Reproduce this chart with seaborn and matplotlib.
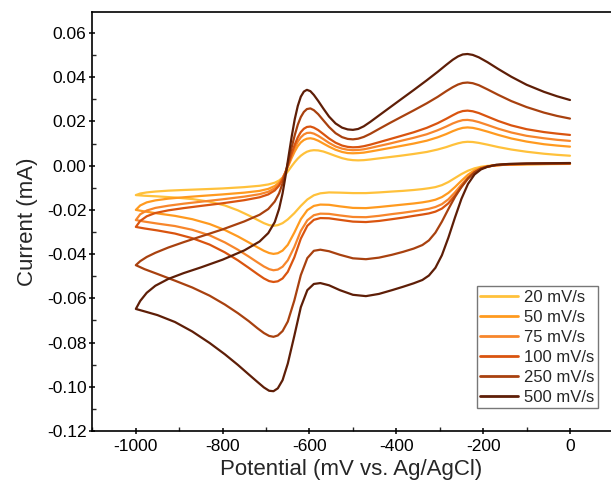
import pandas as pd
import seaborn as sns
import matplotlib
import matplotlib.pyplot as plt
from matplotlib.ticker import MultipleLocator, FormatStrFormatter

matplotlib.use("Agg")

# scan rates and colours
rates = ["20 mV/s", "50 mV/s", "75 mV/s", "100 mV/s", "250 mV/s", "500 mV/s"]
colors = ["#FFC13B", "#FF9A1F", "#F7862C", "#D9540F", "#A8410F", "#5E1E07"]

# cathodic sweep potentials (0 -> -1000 mV)
E_cat = [0, -50, -100, -140, -170,
         -190, -205, -220, -235, -250,
         -265, -280, -295, -310, -325,
         -340, -360, -385, -410, -440,
         -470, -500, -530, -555, -575,
         -590, -605, -620, -635, -650,
         -662, -673, -683, -693, -705,
         -720, -740, -765, -795, -830,
         -870, -910, -950, -980, -1000]
# anodic sweep potentials (-1000 -> 0 mV)
E_ano = [-1000, -990, -975, -955, -925,
         -890, -850, -800, -750, -715,
         -695, -680, -670, -662, -655,
         -648, -641, -634, -627, -620,
         -613, -606, -598, -590, -580,
         -568, -555, -540, -525, -512,
         -500, -488, -475, -460, -440,
         -415, -390, -360, -330, -305,
         -285, -270, -258, -247, -236,
         -224, -210, -190, -165, -135,
         -100, -60, -30, 0]

# currents (mA)
cat_20 = [0.0008, 0.0007, 0.0006, 0.0005, 0.0002,
          -0.0001, -0.0005, -0.0012, -0.0023, -0.0038,
          -0.0056, -0.0074, -0.0088, -0.0097, -0.0102,
          -0.0106, -0.0110, -0.0114, -0.0117, -0.0121,
          -0.0124, -0.0124, -0.0122, -0.0121, -0.0125,
          -0.0134, -0.0153, -0.0182, -0.0215, -0.0243,
          -0.0260, -0.0269, -0.0272, -0.0269, -0.0260,
          -0.0245, -0.0225, -0.0202, -0.0180, -0.0163,
          -0.0151, -0.0144, -0.0139, -0.0136, -0.0133]
ano_20 = [-0.0133, -0.0126, -0.0121, -0.0117, -0.0113,
          -0.0110, -0.0107, -0.0103, -0.0097, -0.0091,
          -0.0085, -0.0077, -0.0067, -0.0054, -0.0039,
          -0.0021, -0.0002, 0.0016, 0.0032, 0.0045,
          0.0055, 0.0063, 0.0068, 0.0070, 0.0069,
          0.0064, 0.0055, 0.0044, 0.0034, 0.0028,
          0.0025, 0.0024, 0.0025, 0.0028, 0.0033,
          0.0039, 0.0045, 0.0053, 0.0062, 0.0073,
          0.0084, 0.0094, 0.0101, 0.0106, 0.0108,
          0.0107, 0.0103, 0.0095, 0.0084, 0.0073,
          0.0063, 0.0054, 0.0049, 0.0045]

cat_50 = [0.0009, 0.0008, 0.0007, 0.0005, 0.0002,
          -0.0003, -0.0009, -0.0021, -0.0041, -0.0068,
          -0.0097, -0.0123, -0.0142, -0.0154, -0.0161,
          -0.0166, -0.0171, -0.0176, -0.0181, -0.0187,
          -0.0192, -0.0191, -0.0184, -0.0177, -0.0176,
          -0.0182, -0.0201, -0.0242, -0.0303, -0.0358,
          -0.0384, -0.0396, -0.0399, -0.0395, -0.0385,
          -0.0369, -0.0347, -0.0320, -0.0291, -0.0264,
          -0.0242, -0.0227, -0.0216, -0.0207, -0.0200]
ano_50 = [-0.0200, -0.0180, -0.0166, -0.0157, -0.0149,
          -0.0143, -0.0137, -0.0130, -0.0122, -0.0114,
          -0.0105, -0.0092, -0.0076, -0.0055, -0.0028,
          0.0003, 0.0035, 0.0064, 0.0088, 0.0105,
          0.0116, 0.0122, 0.0124, 0.0121, 0.0113,
          0.0100, 0.0086, 0.0072, 0.0062, 0.0057,
          0.0056, 0.0057, 0.0059, 0.0064, 0.0071,
          0.0080, 0.0089, 0.0100, 0.0113, 0.0128,
          0.0143, 0.0156, 0.0165, 0.0171, 0.0173,
          0.0171, 0.0165, 0.0154, 0.0139, 0.0123,
          0.0109, 0.0097, 0.0091, 0.0086]

cat_75 = [0.0009, 0.0008, 0.0007, 0.0005, 0.0002,
          -0.0004, -0.0012, -0.0027, -0.0052, -0.0086,
          -0.0121, -0.0152, -0.0174, -0.0187, -0.0195,
          -0.0200, -0.0206, -0.0213, -0.0219, -0.0227,
          -0.0233, -0.0232, -0.0225, -0.0218, -0.0217,
          -0.0224, -0.0247, -0.0295, -0.0368, -0.0428,
          -0.0457, -0.0470, -0.0473, -0.0468, -0.0456,
          -0.0437, -0.0411, -0.0380, -0.0347, -0.0315,
          -0.0290, -0.0273, -0.0262, -0.0253, -0.0246]
ano_75 = [-0.0246, -0.0220, -0.0203, -0.0191, -0.0181,
          -0.0172, -0.0163, -0.0152, -0.0140, -0.0129,
          -0.0118, -0.0102, -0.0083, -0.0058, -0.0028,
          0.0007, 0.0045, 0.0080, 0.0108, 0.0128,
          0.0141, 0.0148, 0.0149, 0.0145, 0.0135,
          0.0120, 0.0103, 0.0087, 0.0077, 0.0072,
          0.0070, 0.0071, 0.0074, 0.0080, 0.0089,
          0.0100, 0.0112, 0.0126, 0.0142, 0.0160,
          0.0177, 0.0191, 0.0200, 0.0206, 0.0207,
          0.0204, 0.0197, 0.0184, 0.0167, 0.0150,
          0.0135, 0.0124, 0.0117, 0.0112]

cat_100 = [0.0010, 0.0009, 0.0008, 0.0006, 0.0002,
           -0.0004, -0.0013, -0.0030, -0.0058, -0.0096,
           -0.0135, -0.0170, -0.0194, -0.0208, -0.0216,
           -0.0221, -0.0227, -0.0235, -0.0242, -0.0250,
           -0.0255, -0.0253, -0.0245, -0.0238, -0.0237,
           -0.0245, -0.0272, -0.0330, -0.0415, -0.0480,
           -0.0510, -0.0523, -0.0526, -0.0522, -0.0510,
           -0.0490, -0.0462, -0.0428, -0.0392, -0.0357,
           -0.0328, -0.0307, -0.0293, -0.0284, -0.0277]
ano_100 = [-0.0277, -0.0250, -0.0229, -0.0214, -0.0202,
           -0.0192, -0.0182, -0.0170, -0.0156, -0.0143,
           -0.0130, -0.0112, -0.0090, -0.0062, -0.0028,
           0.0012, 0.0055, 0.0095, 0.0128, 0.0152,
           0.0167, 0.0175, 0.0177, 0.0172, 0.0161,
           0.0143, 0.0123, 0.0104, 0.0091, 0.0085,
           0.0083, 0.0084, 0.0088, 0.0095, 0.0106,
           0.0120, 0.0134, 0.0151, 0.0171, 0.0192,
           0.0212, 0.0228, 0.0240, 0.0247, 0.0249,
           0.0246, 0.0238, 0.0222, 0.0202, 0.0182,
           0.0165, 0.0152, 0.0145, 0.0139]

cat_250 = [0.0011, 0.0010, 0.0009, 0.0007, 0.0003,
           -0.0004, -0.0013, -0.0030, -0.0058, -0.0096,
           -0.0142, -0.0196, -0.0253, -0.0303, -0.0338,
           -0.0359, -0.0375, -0.0390, -0.0403, -0.0416,
           -0.0423, -0.0419, -0.0403, -0.0387, -0.0380,
           -0.0385, -0.0418, -0.0495, -0.0610, -0.0705,
           -0.0748, -0.0768, -0.0774, -0.0770, -0.0757,
           -0.0735, -0.0703, -0.0667, -0.0628, -0.0588,
           -0.0551, -0.0520, -0.0490, -0.0468, -0.0450]
ano_250 = [-0.0450, -0.0432, -0.0413, -0.0394, -0.0370,
           -0.0346, -0.0320, -0.0288, -0.0252, -0.0222,
           -0.0196, -0.0162, -0.0125, -0.0080, -0.0030,
           0.0025, 0.0083, 0.0138, 0.0185, 0.0220,
           0.0243, 0.0256, 0.0259, 0.0251, 0.0233,
           0.0205, 0.0175, 0.0147, 0.0129, 0.0121,
           0.0119, 0.0122, 0.0130, 0.0144, 0.0166,
           0.0193, 0.0219, 0.0250, 0.0282, 0.0311,
           0.0337, 0.0355, 0.0367, 0.0374, 0.0376,
           0.0373, 0.0364, 0.0345, 0.0320, 0.0292,
           0.0265, 0.0240, 0.0225, 0.0213]

cat_500 = [0.0012, 0.0011, 0.0010, 0.0008, 0.0004,
           -0.0005, -0.0017, -0.0040, -0.0083, -0.0150,
           -0.0235, -0.0325, -0.0405, -0.0462, -0.0497,
           -0.0517, -0.0532, -0.0548, -0.0563, -0.0580,
           -0.0590, -0.0584, -0.0563, -0.0541, -0.0531,
           -0.0535, -0.0563, -0.0640, -0.0770, -0.0895,
           -0.0970, -0.1007, -0.1020, -0.1018, -0.1003,
           -0.0978, -0.0944, -0.0901, -0.0853, -0.0802,
           -0.0750, -0.0707, -0.0676, -0.0659, -0.0648]
ano_500 = [-0.0648, -0.0612, -0.0575, -0.0543, -0.0512,
           -0.0486, -0.0460, -0.0425, -0.0383, -0.0343,
           -0.0305, -0.0255, -0.0195, -0.0125, -0.0045,
           0.0045, 0.0132, 0.0210, 0.0270, 0.0312,
           0.0335, 0.0343, 0.0337, 0.0320, 0.0293,
           0.0258, 0.0222, 0.0191, 0.0172, 0.0164,
           0.0162, 0.0166, 0.0178, 0.0198, 0.0227,
           0.0263, 0.0299, 0.0342, 0.0386, 0.0424,
           0.0456, 0.0479, 0.0494, 0.0503, 0.0505,
           0.0501, 0.0490, 0.0468, 0.0437, 0.0402,
           0.0366, 0.0334, 0.0314, 0.0297]

sweeps = {
    "20 mV/s": (cat_20, ano_20),
    "50 mV/s": (cat_50, ano_50),
    "75 mV/s": (cat_75, ano_75),
    "100 mV/s": (cat_100, ano_100),
    "250 mV/s": (cat_250, ano_250),
    "500 mV/s": (cat_500, ano_500),
}

rows = []
for rate in rates:
    cat, ano = sweeps[rate]
    assert len(cat) == len(E_cat) and len(ano) == len(E_ano), rate
    for e, i in zip(E_cat + E_ano, cat + ano):
        rows.append({"E": e, "I": i, "rate": rate})
df = pd.DataFrame(rows)

sns.set_style("ticks")
plt.rcParams["font.family"] = ["Liberation Sans", "DejaVu Sans"]
plt.rcParams["axes.unicode_minus"] = False

fig = plt.figure(figsize=(6.11, 4.83), dpi=100)
ax = fig.add_axes([92 / 611, 1 - 431 / 483, 1 - 92 / 611, 419 / 483])

sns.lineplot(data=df, x="E", y="I", hue="rate", hue_order=rates,
             palette=colors, sort=False, estimator=None, linewidth=1.6, ax=ax)
for line in ax.get_lines():
    line.set_solid_joinstyle("round")

ax.set_xlim(-1101, 94.5)
ax.set_ylim(-0.12, 0.0695)
ax.xaxis.set_major_locator(MultipleLocator(200))
ax.xaxis.set_minor_locator(MultipleLocator(100))
ax.yaxis.set_major_locator(MultipleLocator(0.02))
ax.yaxis.set_minor_locator(MultipleLocator(0.01))
ax.yaxis.set_major_formatter(FormatStrFormatter("%.2f"))
# major ticks cross the spine, minor ticks point inward
ax.tick_params(which="major", direction="inout", length=5, width=1.1, labelsize=12.5,
               colors="black")
ax.tick_params(which="minor", direction="in", length=3, width=1.0)
ax.tick_params(axis="y", which="major", pad=1.5)
ax.tick_params(axis="x", which="major", pad=3)
for s in ax.spines.values():
    s.set_linewidth(1.2)
    s.set_color("black")
ax.spines["right"].set_visible(False)

ax.set_xlabel("Potential (mV vs. Ag/AgCl)", fontsize=16, labelpad=4)
ax.set_ylabel("Current (mA)", fontsize=16, labelpad=6)

handles, labels = ax.get_legend_handles_labels()
leg = ax.legend(handles, labels, loc="lower right", bbox_to_anchor=(0.975, 0.055),
                borderaxespad=0, fontsize=12, frameon=True, fancybox=False,
                edgecolor="#555555", handlelength=2.3, handletextpad=0.35,
                labelspacing=0.3, borderpad=0.2)
leg.get_frame().set_linewidth(1.0)
for line in leg.get_lines():
    line.set_linewidth(2.0)

plt.savefig("out.png", dpi=100)
